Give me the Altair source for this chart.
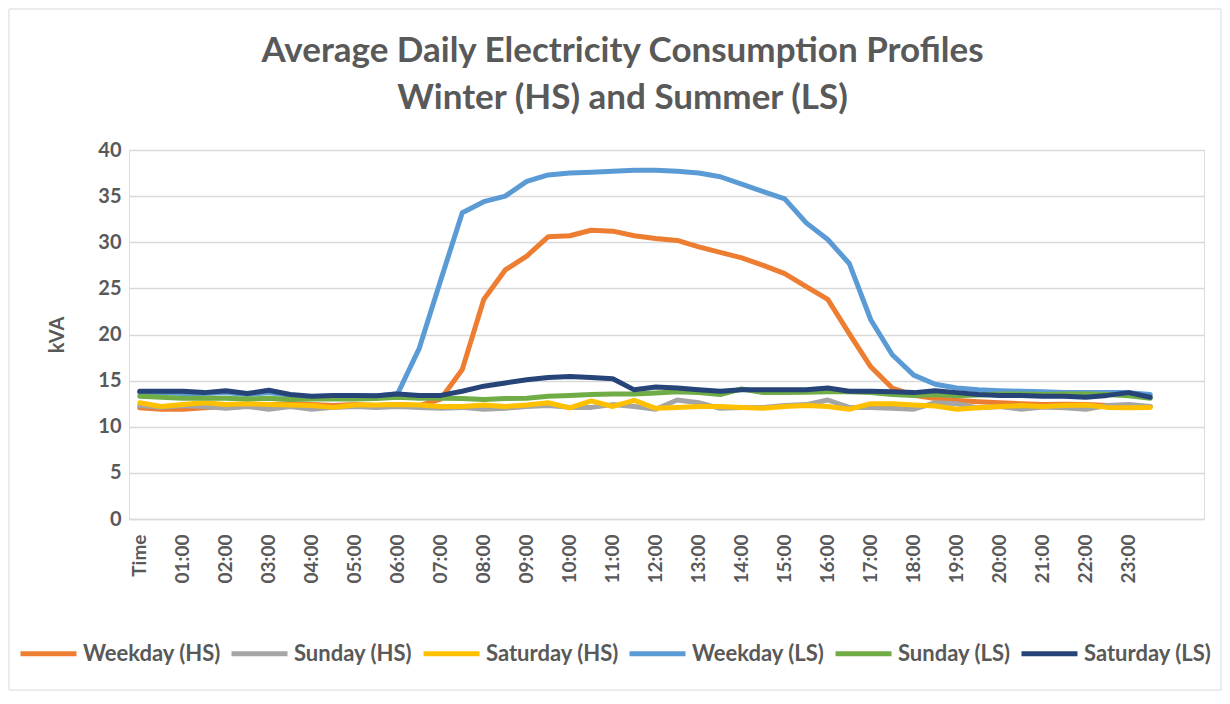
import altair as alt
import pandas as pd

TIMES = [
    "Time", "00:30", "01:00", "01:30", "02:00", "02:30", "03:00", "03:30",
    "04:00", "04:30", "05:00", "05:30", "06:00", "06:30", "07:00", "07:30",
    "08:00", "08:30", "09:00", "09:30", "10:00", "10:30", "11:00", "11:30",
    "12:00", "12:30", "13:00", "13:30", "14:00", "14:30", "15:00", "15:30",
    "16:00", "16:30", "17:00", "17:30", "18:00", "18:30", "19:00", "19:30",
    "20:00", "20:30", "21:00", "21:30", "22:00", "22:30", "23:00", "23:30",
]
# two empty categories at the end of the axis
AXIS_CATEGORIES = TIMES + [" ", "  "]

SERIES = ["Weekday (HS)", "Sunday (HS)", "Saturday (HS)",
          "Weekday (LS)", "Sunday (LS)", "Saturday (LS)"]
COLORS = ["#ED7D31", "#A5A5A5", "#FFC000", "#5B9BD5", "#70AD47", "#264478"]

weekday_hs = [12.05, 11.9, 11.9, 12.05, 12.2, 12.3, 12.4, 12.5, 12.4, 12.3, 12.4, 12.3,
              12.4, 12.3, 13.0, 16.2, 23.8, 27.0, 28.5, 30.6, 30.7, 31.3, 31.2, 30.7,
              30.4, 30.2, 29.5, 28.9, 28.3, 27.5, 26.6, 25.2, 23.8, 20.1, 16.5, 14.2,
              13.4, 13.05, 12.85, 12.7, 12.6, 12.5, 12.4, 12.45, 12.4, 12.3, 12.2, 12.2]
sunday_hs = [12.3, 12.1, 12.3, 12.2, 12.0, 12.2, 11.9, 12.2, 11.9, 12.1, 12.2, 12.1,
             12.2, 12.1, 12.0, 12.1, 11.9, 12.0, 12.2, 12.3, 12.1, 12.1, 12.4, 12.2,
             11.9, 12.9, 12.6, 12.0, 12.1, 12.1, 12.3, 12.4, 12.9, 12.1, 12.1, 12.0,
             11.9, 12.6, 12.5, 12.05, 12.2, 11.9, 12.15, 12.05, 11.9, 12.3, 12.4, 12.2]
saturday_hs = [12.6, 12.2, 12.4, 12.6, 12.4, 12.5, 12.4, 12.35, 12.3, 12.1, 12.35, 12.35,
               12.4, 12.35, 12.2, 12.2, 12.35, 12.2, 12.35, 12.6, 12.05, 12.8, 12.2, 12.85,
               12.0, 12.1, 12.2, 12.2, 12.1, 12.0, 12.2, 12.3, 12.2, 11.9, 12.5, 12.5,
               12.35, 12.25, 11.9, 12.05, 12.2, 12.3, 12.2, 12.3, 12.35, 12.1, 12.05, 12.1]
weekday_ls = [13.7, 13.7, 13.6, 13.6, 13.7, 13.5, 13.7, 13.4, 13.2, 13.3, 13.3, 13.3,
              13.6, 18.5, 25.9, 33.2, 34.4, 35.0, 36.6, 37.3, 37.5, 37.6, 37.7, 37.8,
              37.8, 37.7, 37.5, 37.1, 36.3, 35.5, 34.7, 32.1, 30.3, 27.7, 21.6, 17.8,
              15.6, 14.6, 14.2, 14.0, 13.9, 13.85, 13.8, 13.7, 13.7, 13.7, 13.7, 13.5]
sunday_ls = [13.3, 13.2, 13.1, 13.1, 13.1, 13.0, 13.1, 12.95, 13.0, 13.0, 13.0, 13.05,
             13.2, 13.1, 13.1, 13.05, 12.95, 13.05, 13.1, 13.3, 13.4, 13.5, 13.55, 13.55,
             13.65, 13.8, 13.7, 13.5, 14.1, 13.7, 13.7, 13.75, 13.8, 13.8, 13.7, 13.5,
             13.4, 13.5, 13.35, 13.45, 13.55, 13.55, 13.5, 13.55, 13.55, 13.5, 13.35, 13.1]
saturday_ls = [13.85, 13.85, 13.85, 13.7, 13.9, 13.6, 13.95, 13.5, 13.3, 13.4, 13.4, 13.35,
               13.55, 13.4, 13.4, 13.85, 14.4, 14.75, 15.1, 15.35, 15.45, 15.35, 15.2, 14.0,
               14.3, 14.2, 14.0, 13.85, 14.0, 14.0, 14.0, 14.0, 14.2, 13.85, 13.85, 13.8,
               13.7, 13.9, 13.7, 13.5, 13.4, 13.4, 13.3, 13.3, 13.2, 13.4, 13.7, 13.2]

VALUES = [weekday_hs, sunday_hs, saturday_hs, weekday_ls, sunday_ls, saturday_ls]
Y_TICKS = [0, 5, 10, 15, 20, 25, 30, 35, 40]

rows = []
for s_i, (name, vals) in enumerate(zip(SERIES, VALUES)):
    for t_i, (t, v) in enumerate(zip(TIMES, vals)):
        rows.append({"time": t, "kVA": v, "series": name, "s_order": s_i, "t_order": t_i})
df = pd.DataFrame(rows)

FONT = "Lato"
GREY = "#595959"

border = alt.Chart(pd.DataFrame({"b": [0]})).mark_rect(
    fill="white", fillOpacity=0, stroke="#d9d9d9", strokeWidth=1
).encode(
    x=alt.value(-120), x2=alt.value(1092), y=alt.value(-141), y2=alt.value(540)
)

lines = alt.Chart(df).mark_line(strokeWidth=5, strokeJoin="round", strokeCap="round").encode(
    x=alt.X("time:O",
            scale=alt.Scale(type="point", domain=AXIS_CATEGORIES, padding=0.5),
            axis=alt.Axis(
                title=None,
                labelExpr="slice(datum.value, -3) == ':30' ? '' : datum.value",
                labelAngle=270, labelAlign="right", labelBaseline="middle",
                labelPadding=15, labelOverlap=False, ticks=False,
                labelFont=FONT, labelFontSize=19, labelFontWeight="bold", labelColor=GREY,
                domainColor="#d9d9d9", domainWidth=1.5, grid=False,
            )),
    y=alt.Y("kVA:Q",
            scale=alt.Scale(domain=[0, 40], nice=False),
            axis=alt.Axis(
                values=Y_TICKS, title="kVA", titleFont=FONT, titleFontSize=20,
                titleFontWeight="bold", titleColor=GREY, titlePadding=30,
                labelFont=FONT, labelFontSize=20, labelFontWeight="bold", labelColor=GREY,
                labelPadding=8, ticks=False, domain=False,
                gridColor="#d9d9d9", gridWidth=1.5,
            )),
    color=alt.Color("series:N",
                    scale=alt.Scale(domain=SERIES, range=COLORS),
                    legend=alt.Legend(
                        title=None, orient="none", direction="horizontal",
                        legendX=-111, legendY=473, columns=6,
                        symbolType="stroke", symbolSize=3136, symbolStrokeWidth=5,
                        columnPadding=0, labelOffset=4, padding=0,
                        labelFont=FONT, labelFontSize=22, labelFontWeight="bold",
                        labelColor=GREY,
                    )),
    detail="s_order:O",
    order="t_order:Q",
)

chart = alt.layer(border, lines).properties(
    width=1075, height=369, padding=0,
    title=alt.Title(
        ["Average Daily Electricity Consumption Profiles", "Winter (HS) and Summer (LS)"],
        font=FONT, fontSize=35, fontWeight="bold", color=GREY,
        lineHeight=47, offset=-107, dx=-44, anchor="middle",
    ),
).configure_view(stroke=None).configure(background="white")

chart.save("out.html", embed_options={"renderer": "svg", "actions": False})
